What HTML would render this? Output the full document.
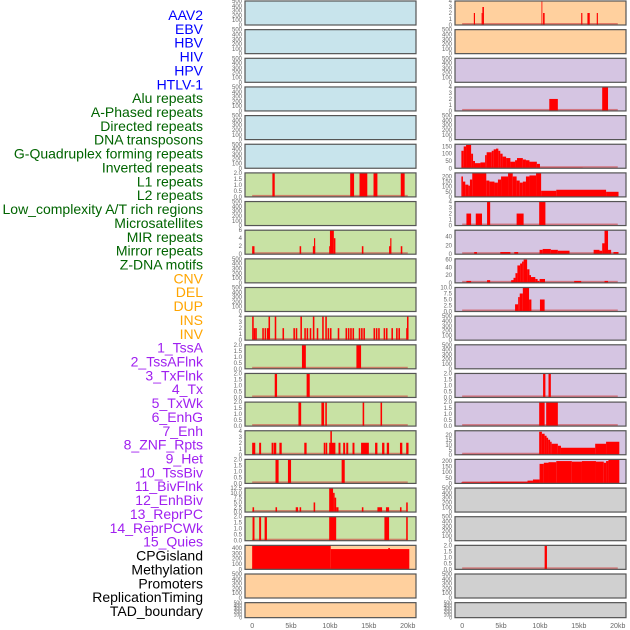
<!DOCTYPE html>
<html><head><meta charset="utf-8"><style>
body{margin:0;background:#fff;width:630px;height:630px;overflow:hidden}
svg{display:block}
</style></head><body>
<svg id="c" width="630" height="630" xmlns="http://www.w3.org/2000/svg"></svg>
<script>
const labels=["AAV2","EBV","HBV","HIV","HPV","HTLV-1","Alu repeats","A-Phased repeats","Directed repeats","DNA transposons","G-Quadruplex forming repeats","Inverted repeats","L1 repeats","L2 repeats","Low_complexity A/T rich regions","Microsatellites","MIR repeats","Mirror repeats","Z-DNA motifs","CNV","DEL","DUP","INS","INV","1_TssA","2_TssAFlnk","3_TxFlnk","4_Tx","5_TxWk","6_EnhG","7_Enh","8_ZNF_Rpts","9_Het","10_TssBiv","11_BivFlnk","12_EnhBiv","13_ReprPC","14_ReprPCWk","15_Quies","CPGisland","Methylation","Promoters","ReplicationTiming","TAD_boundary"];
const labelColors=[6,"#0000ff",13,"#006400",5,"#ffa500",15,"#a020f0",5,"#000000"];
const xTicks=[0,5,10,15,20];
const xTickLabels=["0","5kb","10kb","15kb","20kb"];
// segments: [startKb, endKb, value]
const L6=[[2.6,2.9,2],[12.6,13.1,2],[13.8,14.8,2],[15.6,16.1,2],[19.1,19.6,2]];
const L8=[[0,0.3,2],[6.1,6.3,2],[7.8,8.1,2],[7.95,8.1,4],[9.9,10.0,2],[10.0,10.5,6],[10.5,10.7,4],[14.1,14.3,2],[17.6,17.8,2],[17.75,17.9,4],[19.1,19.3,2]];
const L11pos=[0.1,0.3,0.5,1.4,1.7,2.0,2.2,3.0,4.0,5.4,5.7,6.3,6.8,7.1,7.5,7.9,8.4,9.1,9.5,9.8,10.1,11.1,12.1,12.4,12.7,13.0,13.8,14.1,14.4,15.7,16.0,16.3,17.0,17.3,18.0,18.6,18.9,19.9,20.0];
const L11val=[4,2,2,2,2,2,4,4,2,2,2,4,2,2,2,4,2,4,4,2,2,2,2,2,2,2,2,2,2,2,2,2,2,2,2,2,2,2,4];
const L12=[[6.4,6.9,2],[13.4,14.0,2]];
const L13=[[2.9,3.2,2],[7.0,7.4,2]];
const L14=[[5.95,6.3,2],[8.9,9.25,2],[9.4,9.6,2],[14.2,14.4,2],[16.5,16.7,2]];
const L15=[[0,0.4,2],[0.9,1.15,2],[2.5,2.75,2],[2.8,3.1,2],[3.5,3.8,2],[6.7,7.0,2],[9.2,9.4,2],[9.45,9.65,2],[9.9,10.7,2],[10.05,10.25,4],[11.1,11.35,2],[11.7,11.95,2],[12.1,12.35,2],[12.9,13.15,2],[14.0,15.0,2],[15.8,16.1,2],[16.7,17.0,2],[17.3,17.6,2],[19.0,19.3,2],[19.8,20.1,2]];
const L16=[[3.0,3.4,2],[4.6,5.0,2],[11.5,11.9,2]];
const L17=[[0.05,0.25,2.5],[3.0,3.2,2.5],[5.6,5.9,2.5],[6.1,6.3,2.5],[7.9,8.1,5],[9.9,10.4,12.5],[10.4,10.6,10],[10.6,10.8,7.5],[10.8,11.1,2.5],[14.1,14.3,2.5],[16.1,16.7,2.5],[17.2,17.6,2.5],[19.0,19.2,2.5],[19.8,20.0,5]];
const L18=[[0.05,0.3,2],[0.9,1.15,2],[1.6,1.9,2],[9.9,10.8,2],[17.0,17.6,2],[19.8,20.0,2]];
const L19=[[0,10.1,450],[10.1,20.2,380],[17.5,17.7,400]];
const R0=[[1.5,1.65,2],[2.5,2.6,2],[2.6,2.8,3],[10.2,10.3,4],[10.4,10.6,2],[15.3,15.45,2],[16.1,16.4,2],[17.3,17.45,2]];
const R3=[[11.2,12.3,2],[18.0,18.75,4]];
const R5=[[-0.1,0.2,120],[0.2,0.5,150],[0.5,1.15,160],[1.15,1.4,100],[1.4,1.65,50],[1.65,2.35,35],[2.35,2.95,40],[2.95,3.15,90],[3.15,3.8,110],[3.8,4.05,120],[4.05,4.35,130],[4.35,4.65,135],[4.65,4.9,120],[4.9,5.2,100],[5.2,5.65,80],[5.65,6.2,70],[6.2,6.8,45],[6.8,7.05,55],[7.05,7.8,70],[7.8,8.2,60],[8.2,8.65,55],[8.65,9.6,45],[9.6,10.0,30],[10.0,13.8,5],[13.8,15.5,5],[15.5,20.0,1]];
const R6=[[-0.1,0.1,200],[0.1,0.4,150],[0.4,0.8,120],[0.8,1.0,110],[1.0,1.3,170],[1.3,3.1,230],[3.1,3.5,160],[3.5,4.15,150],[4.15,4.6,140],[4.6,5.0,170],[5.0,5.9,200],[5.9,6.5,230],[6.5,7.0,200],[7.0,7.4,160],[7.4,7.8,140],[7.8,8.2,150],[8.2,8.65,200],[8.65,9.5,210],[9.5,10.15,230],[10.15,12.1,60],[12.1,18.5,70],[18.5,20.1,50]];
const R7=[[0.55,1.15,2],[1.75,2.55,2],[3.2,3.6,4],[7.0,7.9,2],[9.9,10.7,4]];
const R8=[[1.55,1.9,5],[4.9,6.2,5],[6.7,7.2,5],[9.95,10.35,10],[10.35,11.4,12],[11.4,12.3,10],[12.3,13.8,8],[16.9,17.65,10],[17.65,18.0,8],[18.0,18.3,25],[18.3,18.75,55],[18.75,19.15,10],[19.45,20.1,5]];
const R9=[[0.55,1.15,5],[3.2,3.6,7],[6.3,6.6,7],[6.6,6.85,13],[6.85,7.1,25],[7.1,7.45,45],[7.45,7.7,50],[7.7,7.9,55],[7.9,8.35,60],[8.35,8.65,35],[8.65,8.85,20],[8.85,9.4,15],[9.4,9.7,10],[9.7,9.9,5],[9.95,10.65,10],[14.4,15.3,5],[18.3,18.75,5]];
const R10=[[6.8,7.2,3],[7.2,7.4,6],[7.4,7.8,7.5],[7.8,8.6,10],[8.6,8.9,5],[10.0,10.6,5]];
const R13=[[10.4,10.7,2],[11.1,11.4,2]];
const R14=[[9.9,10.6,2],[10.8,12.3,2]];
const R15=[[-0.1,9.9,0.5],[9.9,10.25,23],[10.25,10.6,21],[10.6,10.85,19],[10.85,11.05,17],[11.05,11.3,15],[11.3,11.5,13],[11.5,12.3,11],[12.3,12.7,9],[12.7,17.1,7],[17.1,18.5,11],[18.5,20.2,13]];
const R16=[[-0.1,3.6,10],[3.6,8.4,15],[8.4,9.1,25],[9.1,9.95,35],[9.95,10.5,175],[10.5,11.1,185],[11.1,12.1,190],[12.1,14.1,200],[14.1,15.4,195],[15.4,17.2,200],[17.2,18.2,195],[18.2,18.5,185],[18.5,18.8,200],[18.8,20.2,210]];
const R19=[[10.6,10.9,2]];
const L11=L11pos.map((p,i)=>[p-0.1,p+0.1,L11val[i]]);
const E=[0,100,200,300,400,500];
const BL="#c8e4ec",GR="#c8e2a4",OR="#ffd09e",PU="#d5c5e2",GY="#d0d0d0";
// [bg, segs, ymax, ticks, tickLabels]
const leftRows=[
[BL,null,500,E],[BL,null,500,E],[BL,null,500,E],[BL,null,500,E],[BL,null,500,E],[BL,null,500,E],
[GR,L6,2,[0,0.5,1,1.5,2],["0.0","0.5","1.0","1.5","2.0"]],[GR,null,500,E],[GR,L8,6,[0,2,4,6]],[GR,null,500,E],[GR,null,500,E],
[GR,L11,4,[0,1,2,3,4]],[GR,L12,2,[0,0.5,1,1.5,2],["0.0","0.5","1.0","1.5","2.0"]],[GR,L13,2,[0,0.5,1,1.5,2],["0.0","0.5","1.0","1.5","2.0"]],
[GR,L14,2,[0,0.5,1,1.5,2],["0.0","0.5","1.0","1.5","2.0"]],[GR,L15,4,[0,1,2,3,4]],[GR,L16,2,[0,0.5,1,1.5,2],["0.0","0.5","1.0","1.5","2.0"]],
[GR,L17,12.5,[0,2.5,5,7.5,10,12.5],["0.0","2.5","5.0","7.5","10.0","12.5"]],[GR,L18,2,[0,0.5,1,1.5,2],["0.0","0.5","1.0","1.5","2.0"]],
[OR,L19,450,[0,100,200,300,400]],[OR,null,500,E],[OR,null,500,E]];
const rightRows=[
[OR,R0,4,[0,1,2,3,4]],[OR,null,500,E],[PU,null,500,E],[PU,R3,4,[0,1,2,3,4]],[PU,null,500,E],
[PU,R5,165,[0,50,100,150]],[PU,R6,235,[0,50,100,150,200]],[PU,R7,4,[0,1,2,3,4]],[PU,R8,55,[0,20,40]],[PU,R9,62,[0,20,40,60]],
[PU,R10,10,[0,2.5,5,7.5,10],["0.0","2.5","5.0","7.5","10.0"]],[PU,null,500,E],[PU,null,500,E],
[PU,R13,2,[0,0.5,1,1.5,2],["0.0","0.5","1.0","1.5","2.0"]],[PU,R14,2,[0,0.5,1,1.5,2],["0.0","0.5","1.0","1.5","2.0"]],
[PU,R15,24,[0,5,10,15,20]],[PU,R16,215,[0,50,100,150,200]],[GY,null,500,E],[GY,null,500,E],
[GY,R19,2,[0,0.5,1,1.5,2],["0.0","0.5","1.0","1.5","2.0"]],[GY,null,500,E],[GY,null,500,E]];

const NS="http://www.w3.org/2000/svg",svg=document.getElementById('c');
function mk(t,a,p){const e=document.createElementNS(NS,t);for(const k in a)e.setAttribute(k,a[k]);(p||svg).appendChild(e);return e;}
// labels
let ci=0,cnt=0,col=labelColors[1];
labels.forEach((s,i)=>{
  while(cnt>=labelColors[ci]){cnt=0;ci+=2;}
  col=labelColors[ci+1];cnt++;
  const t=mk('text',{x:203,y:15+i*13.86+5,'text-anchor':'end','font-family':'Liberation Sans, sans-serif','font-size':14,fill:col});
  t.textContent=s;
  
  
});
function panel(x0,w,row,i,side){
  const top=1+i*28.65,h=(i==21)?15:24;
  const [bg,segs,ymax,ticks,tl]=row;
  const g=mk('g',{});
  
  
  const kb0=-0.92,kb1=21.06;
  const xs=v=>x0+(v-kb0)/(kb1-kb0)*w;
  const ys=v=>top+h-v/ymax*h;
  mk('rect',{x:x0,y:top,width:w,height:h,fill:bg},g);
  if(segs){
    mk('rect',{x:xs(0),y:top+h-2,width:xs(20)-xs(0),height:2,fill:'#d04040',opacity:0.6},g);
    segs.forEach(s=>{
      const b=mk('rect',{x:xs(s[0]),y:ys(s[2]),width:Math.max(0.8,xs(s[1])-xs(s[0])),height:top+h-ys(s[2]),fill:'#ff0000'},g);
      
      
    });
  }
  mk('rect',{x:x0,y:top,width:w,height:h,fill:'none',stroke:'#555',"stroke-width":1.2},g);
  ticks.forEach((v,k)=>{
    const t=mk('text',{x:x0-3,y:ys(v)+2,'text-anchor':'end','font-family':'Liberation Sans, sans-serif','font-size':(i==21?5:6),fill:'#666'},g);
    t.textContent=tl?tl[k]:String(v);
  });
}
leftRows.forEach((r,i)=>panel(245,171,r,i,'left'));
rightRows.forEach((r,i)=>panel(455,171,r,i,'right'));
[245,455].forEach((x0,j)=>{
  const g=mk('g',{});
  
  
  xTicks.forEach((v,k)=>{
    const x=x0+(v+0.92)/21.98*171;
    const t=mk('text',{x:x,y:628,'text-anchor':'middle','font-family':'Liberation Sans, sans-serif','font-size':7,fill:'#666'},g);
    t.textContent=xTickLabels[k];
  });
});
</script>
</body></html>
